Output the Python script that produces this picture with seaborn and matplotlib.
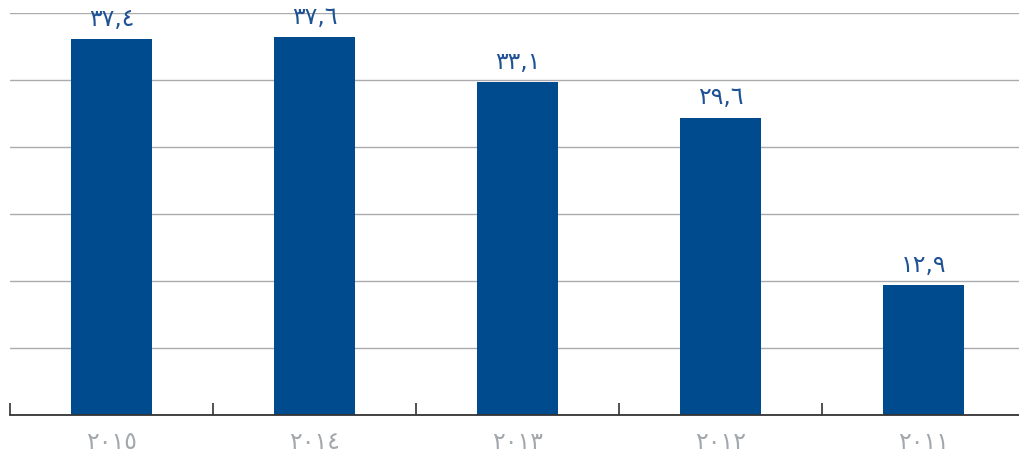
import numpy as np
import pandas as pd
import matplotlib
matplotlib.use("Agg")
import matplotlib.pyplot as plt
import seaborn as sns

# data
years = ["٢٠١٥", "٢٠١٤", "٢٠١٣", "٢٠١٢", "٢٠١١"]
values = [37.4, 37.6, 33.1, 29.6, 12.9]
value_labels = ["٣٧,٤", "٣٧,٦", "٣٣,١", "٢٩,٦", "١٢,٩"]

bar_color = "#004B8D"
label_blue = "#1F5294"
grey_text = "#A3A8AD"
grid_grey = "#A9ABAE"

sns.set_style("white")
plt.rcParams["font.family"] = ["DejaVu Sans"]

df = pd.DataFrame({"year": years, "value": values})

fig = plt.figure(figsize=(10.2, 4.59), dpi=100)
ax = fig.add_axes([10 / 1020, 44 / 459, 1015 / 1020, 402 / 459])

sns.barplot(data=df, x="year", y="value", order=years, color=bar_color,
            width=0.4, saturation=1, linewidth=0, ax=ax, zorder=3)

ax.set_ylim(0, 40)
ax.set_yticks(np.linspace(0, 40, 7))
ax.set_yticklabels([])
ax.tick_params(axis="y", length=0)
ax.grid(axis="y", color=grid_grey, linewidth=1, zorder=0)
ax.set_axisbelow(True)

for s in ["top", "left", "right"]:
    ax.spines[s].set_visible(False)
ax.spines["bottom"].set_color("#333333")
ax.spines["bottom"].set_linewidth(1.3)
ax.spines["bottom"].set_zorder(4)

ax.set_xlim(-0.5, 4.5)
ax.set_xticks(np.arange(-0.5, 5, 1), minor=True)
ax.tick_params(axis="x", which="minor", bottom=True, direction="in", length=9,
               width=1.2, color="#333333")
ax.tick_params(axis="x", which="major", length=0, pad=11, labelsize=17, labelcolor=grey_text)
ax.set_xlabel("")
ax.set_ylabel("")

for i, (v, t) in enumerate(zip(values, value_labels)):
    ax.annotate(t, (i, v), xytext=(0, 6), textcoords="offset points",
                ha="center", va="bottom", fontsize=17, color=label_blue)

fig.savefig("out.png", dpi=100)
